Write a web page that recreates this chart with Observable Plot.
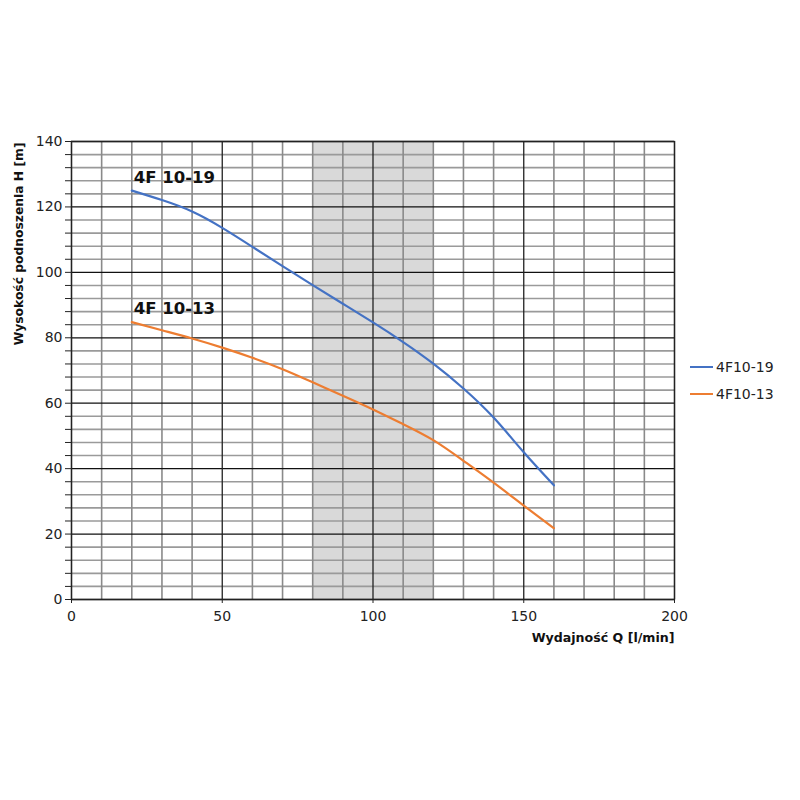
<!DOCTYPE html>
<html>
<head>
<meta charset="utf-8">
<script src="https://cdn.jsdelivr.net/npm/d3@7"></script>
<script src="https://cdn.jsdelivr.net/npm/@observablehq/plot@0.6"></script>
<style>
  html, body { margin: 0; padding: 0; background: #fff; }
  #wrap { position: relative; width: 800px; height: 800px; font-family: "DejaVu Sans", sans-serif; }
  #legend { position: absolute; left: 690px; top: 353px; font-size: 14px; color: #222; }
  .li { display: flex; align-items: center; height: 27px; }
  .sw { width: 23px; height: 2px; margin-right: 3px; }
</style>
</head>
<body>
<div id="wrap"><div id="legend"></div></div>
<script>
// Data
const flowQ = [20, 30, 40, 50, 60, 70, 80, 90, 100, 110, 120, 130, 140, 150, 160];
const head1019 = [125, 122.1, 118.6, 113.6, 107.8, 101.9, 96.1, 90.4, 84.7, 78.7, 72.1, 64.5, 55.6, 45.0, 34.9];
const head1013 = [84.8, 82.3, 79.8, 77.0, 73.9, 70.4, 66.4, 62.3, 58.1, 53.6, 48.7, 42.4, 35.7, 28.7, 21.8];
const seriesNames = ["4F10-19", "4F10-13"];
const curveLabels = ["4F 10-19", "4F 10-13"];
const seriesColors = ["#4472C4", "#ED7D31"];
const shadeRange = [80, 120];
const xTicks = [0, 50, 100, 150, 200];
const xMinor = d3.range(0, 201, 10);
const yMinor = d3.range(0, 141, 4);
const yMajor = [0, 20, 40, 60, 80, 100, 120, 140];
const xLabel = "Wydajność Q [l/min]";
const yLabel = "Wysokość podnoszenia H [m]";

const rows = [];
flowQ.forEach((q, i) => {
  rows.push({q, h: head1019[i], s: seriesNames[0]});
  rows.push({q, h: head1013[i], s: seriesNames[1]});
});
const labelRows = [
  {q: flowQ[0], h: head1019[0], t: curveLabels[0]},
  {q: flowQ[0], h: head1013[0], t: curveLabels[1]}
];

const font = "DejaVu Sans, sans-serif";

const chart = Plot.plot({
  width: 800,
  height: 800,
  marginTop: 141,
  marginLeft: 71,
  marginRight: 126,
  marginBottom: 201,
  style: {fontFamily: font, fontSize: "14px", color: "#222", background: "#fff"},
  x: {domain: [0, 200]},
  y: {domain: [0, 140]},
  color: {domain: seriesNames, range: seriesColors},
  marks: [
    Plot.rect([shadeRange], {x1: d => d[0], x2: d => d[1], y1: 0, y2: 140, fill: "#d9d9d9"}),
    Plot.ruleY(yMinor.filter(d => d % 20 !== 0), {stroke: "#9a9a9a", strokeWidth: 1.6}),
    Plot.ruleX(xMinor.filter(d => d % 50 !== 0), {stroke: "#8a8a8a", strokeWidth: 1.6}),
    Plot.ruleY(yMajor, {stroke: "#111", strokeWidth: 1.3}),
    Plot.ruleX(xTicks, {stroke: "#222", strokeWidth: 1.3}),
    Plot.line(rows, {x: "q", y: "h", z: "s", stroke: "s", strokeWidth: 2.2, curve: "natural"}),
    Plot.text(labelRows, {x: "q", y: "h", text: "t", textAnchor: "start", dx: 2, dy: -13, fontWeight: "bold", fontSize: 16.5, fill: "#111"}),
    Plot.axisY({ticks: yMinor, tickFormat: d => (d % 20 === 0 ? d : ""), tickSize: 6, tickPadding: 3, label: null, stroke: "#222"}),
    Plot.axisX({ticks: xTicks, tickSize: 4, tickPadding: 8, label: null}),
    Plot.text([yLabel], {frameAnchor: "top-left", text: d => d, rotate: -90, textAnchor: "end", dx: -57, dy: 1, fontWeight: "bold", fontSize: 12.3, fill: "#111"}),
    Plot.text([xLabel], {frameAnchor: "bottom-right", text: d => d, textAnchor: "end", dy: 42, fontWeight: "bold", fontSize: 12.6, fill: "#111"}),
    Plot.frame({stroke: "#222", strokeWidth: 1.3})
  ]
});
const wrap = document.getElementById("wrap");
wrap.insertBefore(chart, wrap.firstChild);

const legend = document.getElementById("legend");
seriesNames.forEach((n, i) => {
  const row = document.createElement("div");
  row.className = "li";
  const sw = document.createElement("span");
  sw.className = "sw";
  sw.style.background = seriesColors[i];
  const tx = document.createElement("span");
  tx.textContent = n;
  row.appendChild(sw); row.appendChild(tx);
  legend.appendChild(row);
});
</script>
</body>
</html>
